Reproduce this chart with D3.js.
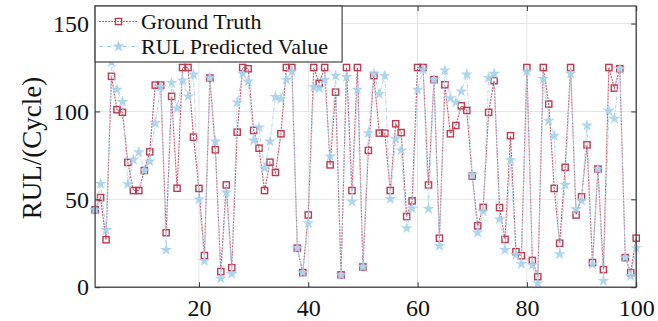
<!DOCTYPE html>
<html>
<head>
<meta charset="utf-8">
<script src="https://cdn.jsdelivr.net/npm/d3@7"></script>
<style>
html,body{margin:0;padding:0;background:#fff;}
svg{display:block;font-family:"Liberation Serif","Times New Roman",serif;}
svg text{font-family:"Liberation Serif","Times New Roman",serif !important;}
</style>
</head>
<body>
<svg id="chart" width="658" height="321"></svg>
<script>
const xTicks = [20, 40, 60, 80, 100];
const yTicks = [0, 50, 100, 150];
const seriesNames = ["Ground Truth", "RUL Predicted Value"];
const groundTruth = [44, 51, 27, 120, 101, 99.5, 71, 55, 55, 66.4, 77, 115, 115, 31, 108.6, 56.3, 125, 125, 85.4, 56.2, 18,
  119, 78.2, 8.9, 58.2, 11.1, 88.2, 125, 124.3, 89.2, 79.1, 55, 71.1, 65.3, 87.3, 125, 125, 22.2, 8.3, 41.1,
  125, 116, 125, 69.6, 111, 7, 125, 55, 125, 11.5, 77.8, 120.4, 87.7, 87.7, 55, 93, 88, 40.2, 49.1, 125,
  125, 58.2, 118.1, 27.9, 115.2, 87.3, 92, 103.2, 100.6, 63.2, 34.9, 45.4, 99.5, 117.5, 45.3, 27.2, 86.2, 20.2, 17.9, 125,
  15.2, 6, 125, 104.2, 56.2, 25, 68.2, 125, 41.1, 51.4, 81, 14, 67.2, 10, 125, 113.3, 124.3, 16.8, 8.3, 27.9];
const predicted = [44, 58.8, 32.6, 128, 112.4, 105.4, 58.6, 72.5, 76.8, 66.4, 71.5, 93.4, 113.9, 21.2, 116.2, 101.9, 117.7, 108.6, 121, 50, 15,
  119, 82.9, 5, 53.9, 7.5, 105.2, 121.5, 117.1, 83.5, 90.9, 67.7, 82.9, 108.2, 107.1, 118.1, 122.8, 22.2, 8.3, 36.4,
  113.9, 113.3, 118.1, 74.4, 120.3, 6.9, 119.6, 48.7, 112.4, 11.7, 87.7, 121.5, 110, 120.3, 50.2, 84.3, 77.8, 33.6, 44.8, 112.4,
  123.8, 44.6, 118.1, 23.5, 123.4, 107.6, 105.2, 111.4, 121, 64, 31.1, 43.1, 119, 121.5, 38.7, 21.2, 72.3, 18.4, 13.2, 122.8,
  12.7, 2.2, 118.5, 94.7, 86.2, 18.8, 58.2, 121.5, 44.4, 49.3, 92, 13, 67.2, 3.6, 100.4, 95.9, 124.2, 16.8, 6.4, 22.2];
const indices = groundTruth.map((d, i) => i + 1);

const svg = d3.select("#chart");
const pL = 95.1, pR = 636.2, pT = 6, pB = 287.2;
const x = d3.scaleLinear().domain([1, 100]).range([pL, pR]);
const y = d3.scaleLinear().domain([0, 160]).range([pB, pT]);

const red = "#bd3a51", blue = "#a6d1ec";
const serif = '"Liberation Serif","Times New Roman",serif';
const sq = 6.2;

// gridlines
const grid = svg.append("g");
grid.selectAll("line.gx").data(xTicks).join("line")
  .attr("x1", d => x(d)).attr("x2", d => x(d)).attr("y1", pT).attr("y2", pB)
  .attr("stroke", "#e4e4e4").attr("stroke-width", 1);
grid.selectAll("line.gy").data(yTicks).join("line")
  .attr("y1", d => y(d)).attr("y2", d => y(d)).attr("x1", pL).attr("x2", pR)
  .attr("stroke", "#e4e4e4").attr("stroke-width", 1);

// lines
const lineGen = d3.line().x((d, i) => x(indices[i])).y(d => y(d));
svg.append("path").datum(groundTruth).attr("d", lineGen)
  .attr("fill", "none").attr("stroke", red).attr("stroke-width", 1.1)
  .attr("stroke-dasharray", "2,1").attr("opacity", 0.85);
svg.selectAll("rect.gt").data(groundTruth).join("rect").attr("class", "gt")
  .attr("x", (d, i) => x(indices[i]) - sq / 2).attr("y", d => y(d) - sq / 2)
  .attr("width", sq).attr("height", sq)
  .attr("fill", "none").attr("stroke", red).attr("stroke-width", 1.4);

svg.append("path").datum(predicted).attr("d", lineGen)
  .attr("fill", "none").attr("stroke", blue).attr("stroke-width", 1)
  .attr("stroke-dasharray", "4,1.5,1,1.5").attr("opacity", 0.9);
const star = d3.symbol().type(d3.symbolStar).size(44);
svg.selectAll("path.pr").data(predicted).join("path").attr("class", "pr")
  .attr("d", star)
  .attr("transform", (d, i) => `translate(${x(indices[i])},${y(d)})`)
  .attr("fill", blue).attr("fill-opacity", 0.9).attr("stroke", "none");

// axes box
const axisColor = "#333";
const xAxisB = d3.axisBottom(x).tickValues(xTicks).tickSizeInner(-5).tickSizeOuter(0).tickPadding(12);
const xAxisT = d3.axisTop(x).tickValues(xTicks).tickSizeInner(-5).tickSizeOuter(0).tickFormat("");
const yAxisL = d3.axisLeft(y).tickValues(yTicks).tickSizeInner(-5).tickSizeOuter(0).tickPadding(6);
const yAxisR = d3.axisRight(y).tickValues(yTicks).tickSizeInner(-5).tickSizeOuter(0).tickFormat("");

function style(g) {
  g.attr("font-family", serif).attr("font-size", 24);
  g.select(".domain").remove();
  g.selectAll(".tick line").attr("stroke", axisColor);
  g.selectAll(".tick text").attr("fill", "#111");
}
svg.append("g").attr("transform", `translate(0,${pB})`).call(xAxisB).call(style);
svg.append("g").attr("transform", `translate(0,${pT})`).call(xAxisT).call(style);
svg.append("g").attr("transform", `translate(${pL},0)`).call(yAxisL).call(style);
svg.append("g").attr("transform", `translate(${pR},0)`).call(yAxisR).call(style);
svg.append("rect").attr("x", pL).attr("y", pT).attr("width", pR - pL).attr("height", pB - pT)
  .attr("fill", "none").attr("stroke", axisColor).attr("stroke-width", 1.2);

// y label
svg.append("text").attr("transform", `translate(41,148) rotate(-90)`)
  .attr("text-anchor", "middle").attr("font-family", serif).attr("font-size", 27).attr("fill", "#111")
  .text("RUL/(Cycle)");

// legend
const lg = svg.append("g");
lg.append("rect").attr("x", pL).attr("y", pT).attr("width", 247).attr("height", 56)
  .attr("fill", "#fff").attr("stroke", "#444").attr("stroke-width", 1.2);
const rows = [
  {name: seriesNames[0], yy: 21.5},
  {name: seriesNames[1], yy: 46.5}
];
rows.forEach((r, k) => {
  if (k === 0) {
    lg.append("line").attr("x1", 99).attr("x2", 138).attr("y1", r.yy).attr("y2", r.yy)
      .attr("stroke", red).attr("stroke-width", 1).attr("stroke-dasharray", "2,1").attr("opacity", 0.75);
    lg.append("rect").attr("x", 118.5 - sq / 2).attr("y", r.yy - sq / 2).attr("width", sq).attr("height", sq)
      .attr("fill", "none").attr("stroke", red).attr("stroke-width", 1.4);
  } else {
    lg.append("line").attr("x1", 99).attr("x2", 138).attr("y1", r.yy).attr("y2", r.yy)
      .attr("stroke", blue).attr("stroke-width", 1).attr("stroke-dasharray", "4,1.5,1,1.5");
    lg.append("path").attr("d", star).attr("transform", `translate(118.5,${r.yy})`).attr("fill", blue);
  }
  lg.append("text").attr("x", 141).attr("y", r.yy + 7.5).attr("font-family", serif).attr("font-size", 22).attr("fill", "#111")
    .text(r.name);
});
</script>
</body>
</html>
